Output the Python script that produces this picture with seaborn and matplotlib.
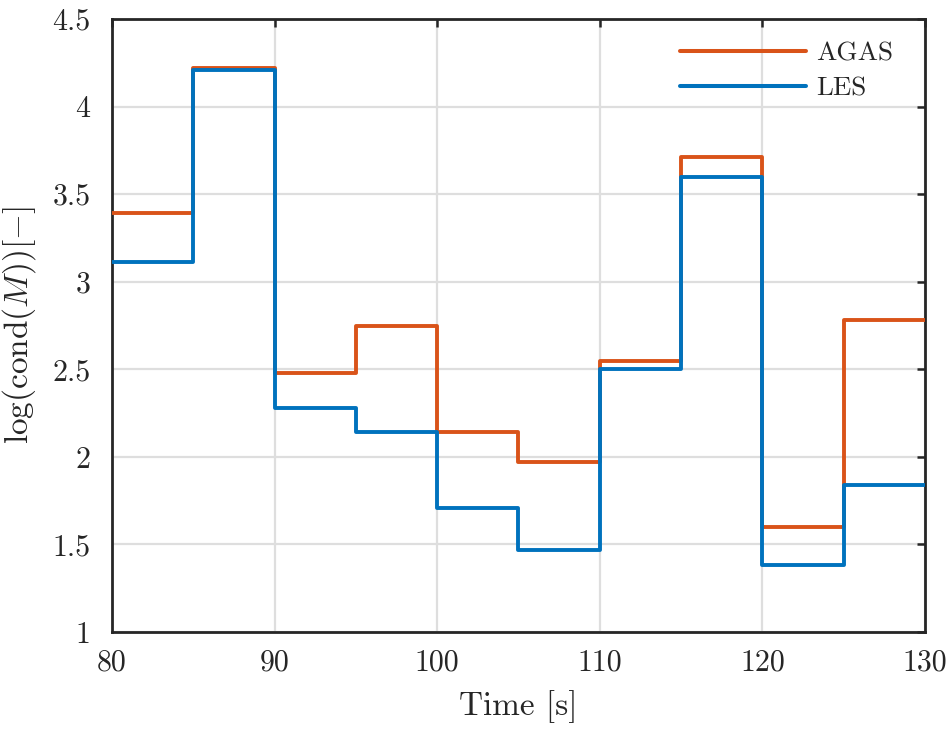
import matplotlib
matplotlib.use("Agg")
import matplotlib.pyplot as plt
import seaborn as sns
import numpy as np
import pandas as pd

# Data
time_edges = [80, 85, 90, 95, 100, 105, 110, 115, 120, 125, 130]
agas = [3.39, 4.22, 2.48, 2.75, 2.14, 1.97, 2.55, 3.71, 1.60, 2.78]
les = [3.11, 4.21, 2.28, 2.14, 1.71, 1.47, 2.50, 3.60, 1.38, 1.84]
x_ticks = [80, 90, 100, 110, 120, 130]
y_ticks = [1, 1.5, 2, 2.5, 3, 3.5, 4, 4.5]
y_tick_labels = ["1", "1.5", "2", "2.5", "3", "3.5", "4", "4.5"]

sns.set_theme(style="white")
plt.rcParams['font.family'] = ['cmr10', 'DejaVu Serif']
plt.rcParams['mathtext.fontset'] = 'cm'
plt.rcParams['axes.formatter.use_mathtext'] = True

fig = plt.figure(figsize=(9.53, 7.30), dpi=100)
ax = fig.add_axes([0.1175, 0.1342, 0.8531, 0.8398])

def steps(vals):
    return list(vals) + [vals[-1]]

df = pd.DataFrame({
    "Time": time_edges * 2,
    "val": steps(agas) + steps(les),
    "series": ["AGAS"] * len(time_edges) + ["LES"] * len(time_edges),
})

sns.lineplot(data=df, x="Time", y="val", hue="series",
             palette={"AGAS": "#D95319", "LES": "#0072BD"},
             drawstyle="steps-post", linewidth=2.8, ax=ax, sort=False,
             estimator=None, zorder=3)

ax.set_xlim(80, 130)
ax.set_ylim(1, 4.5)
ax.set_xticks(x_ticks)
ax.set_yticks(y_ticks)
ax.set_xticklabels([str(v) for v in x_ticks])
ax.set_yticklabels(y_tick_labels)
ax.grid(True, color="#dedede", linewidth=1.6, zorder=0)
ax.set_axisbelow(True)
for s in ax.spines.values():
    s.set_color("#262626")
    s.set_linewidth(2.0)
ax.tick_params(direction="in", length=6, width=1.8, color="#262626",
               top=True, right=True, labelsize=21.5, labelcolor="#262626")
ax.tick_params(axis="x", pad=12)
ax.tick_params(axis="y", pad=15.5)
ax.set_xlabel("Time [s]", fontsize=24, color="#262626", labelpad=10)
ax.set_ylabel(r"$\log(\mathrm{cond}(M))[-]$", fontsize=24, color="#262626",
              labelpad=10)

leg = ax.legend(loc="upper left", frameon=False, fontsize=19.5,
                handlelength=4.65, handletextpad=0.37, labelspacing=0.42,
                bbox_to_anchor=(0.699, 0.964), borderaxespad=0, borderpad=0)
for line in leg.get_lines():
    line.set_linewidth(2.9)
for t in leg.get_texts():
    t.set_color("#262626")

fig.savefig("out.png", dpi=100)
